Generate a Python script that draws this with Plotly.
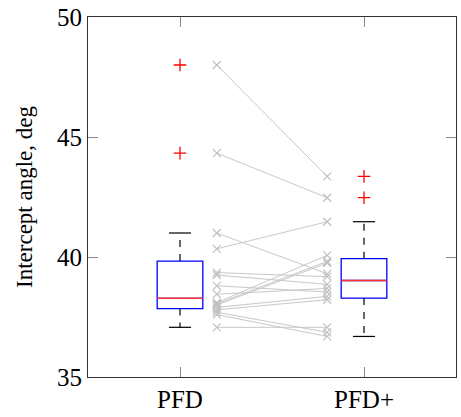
import plotly.graph_objects as go

# ---- data ----
categories = ["PFD", "PFD+"]
positions = [1, 2]
q1 = [37.85, 38.29]
median = [38.28, 39.02]
q3 = [39.83, 39.93]
lower_whisker = [37.07, 36.69]
upper_whisker = [41.00, 41.47]
outliers = [[48.0, 44.33], [43.36, 42.47]]

# paired observations (PFD -> PFD+)
pfd_values = [48.0, 44.33, 41.0, 40.34, 39.35, 39.25, 38.8, 38.45,
              38.1, 38.05, 38.0, 37.9, 37.8, 37.7, 37.6, 37.07]
pfd_plus_values = [43.36, 42.47, 39.3, 41.47, 39.18, 38.86, 38.54, 38.69,
                   40.07, 39.82, 39.75, 38.36, 38.22, 36.86, 36.69, 37.07]
pair_positions = [1.2, 1.8]

y_ticks = [35, 40, 45, 50]

# ---- styles ----
FONT = "Liberation Serif"
BOX_HALF = 0.124
CAP_HALF = 0.06

fig = go.Figure()

# paired gray lines
for a, b in zip(pfd_values, pfd_plus_values):
    fig.add_trace(go.Scatter(
        x=pair_positions, y=[a, b], mode="lines+markers",
        line=dict(color="#c8c8c8", width=1),
        marker=dict(symbol="x-thin", size=8, color="#c8c8c8",
                    line=dict(color="#c0c0c0", width=1.2)),
        showlegend=False, hoverinfo="skip"))

for i, pos in enumerate(positions):
    # whiskers (dashed black)
    fig.add_trace(go.Scatter(
        x=[pos, pos, None, pos, pos],
        y=[q3[i], upper_whisker[i], None, q1[i], lower_whisker[i]],
        mode="lines", line=dict(color="black", width=1.2, dash="7px,7px"),
        showlegend=False, hoverinfo="skip"))
    # caps
    fig.add_trace(go.Scatter(
        x=[pos - CAP_HALF, pos + CAP_HALF, None, pos - CAP_HALF, pos + CAP_HALF],
        y=[upper_whisker[i], upper_whisker[i], None, lower_whisker[i], lower_whisker[i]],
        mode="lines", line=dict(color="black", width=1.2),
        showlegend=False, hoverinfo="skip"))
    # box
    fig.add_trace(go.Box(
        x=[pos], q1=[q1[i]], median=[median[i]], q3=[q3[i]],
        lowerfence=[q1[i]], upperfence=[q3[i]],
        width=2 * BOX_HALF, line=dict(color="blue", width=1.3),
        fillcolor="rgba(0,0,0,0)", showlegend=False, hoverinfo="skip",
        boxpoints=False))
    # median (red)
    fig.add_trace(go.Scatter(
        x=[pos - BOX_HALF, pos + BOX_HALF], y=[median[i], median[i]],
        mode="lines", line=dict(color="#ff3030", width=1.6),
        showlegend=False, hoverinfo="skip"))
    # outliers
    fig.add_trace(go.Scatter(
        x=[pos] * len(outliers[i]), y=outliers[i], mode="markers",
        marker=dict(symbol="cross-thin", size=9,
                    line=dict(color="red", width=1.3)),
        showlegend=False, hoverinfo="skip"))

fig.update_layout(
    width=461, height=417,
    margin=dict(l=88, r=4, t=17, b=36),
    paper_bgcolor="white", plot_bgcolor="white",
    font=dict(family=FONT, size=25, color="black"),
    showlegend=False,
)
fig.update_xaxes(
    range=[0.5, 2.5], tickvals=positions, ticktext=categories,
    showgrid=False, zeroline=False,
    showline=True, linecolor="#333333", linewidth=1, mirror="ticks",
    ticks="inside", ticklen=10, tickcolor="#888888", tickwidth=1,
    tickfont=dict(size=25, family=FONT),
)
fig.update_yaxes(
    range=[35, 50], tickvals=y_ticks,
    showgrid=False, zeroline=False,
    showline=True, linecolor="#333333", linewidth=1, mirror="ticks",
    ticks="inside", ticklen=10, tickcolor="#888888", tickwidth=1,
    tickfont=dict(size=25, family=FONT),
    title=dict(text="Intercept angle, deg", font=dict(size=23, family=FONT), standoff=17),
)

fig.write_html("out.html")
